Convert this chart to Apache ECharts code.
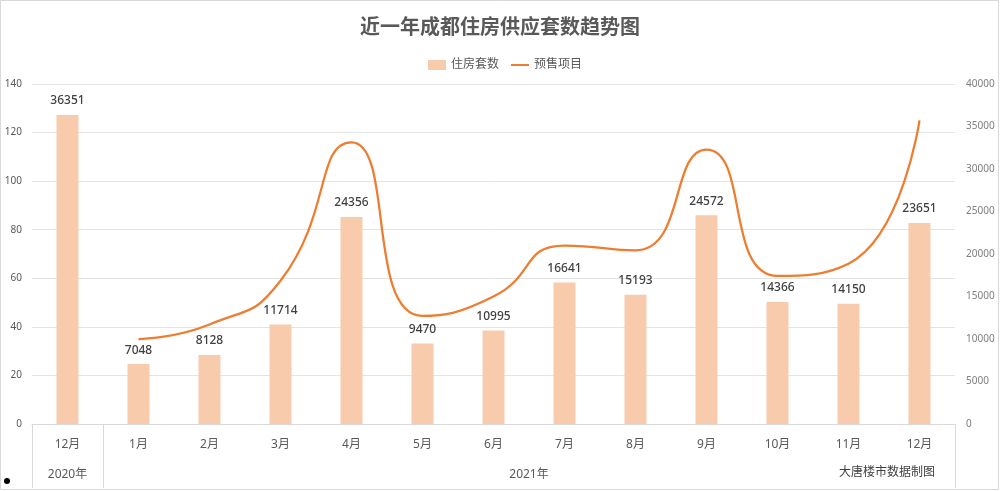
<!DOCTYPE html>
<html>
<head>
<meta charset="utf-8">
<script src="https://cdn.jsdelivr.net/npm/echarts@6/dist/echarts.min.js"></script>
<style>html,body{margin:0;padding:0;background:#fff;}#chart{width:1000px;height:491px;}</style>
</head>
<body>
<div id="chart"></div>
<script>
var categories = ['12月','1月','2月','3月','4月','5月','6月','7月','8月','9月','10月','11月','12月'];
var housingUnits = [36351, 7048, 8128, 11714, 24356, 9470, 10995, 16641, 15193, 24572, 14366, 14150, 23651];
var presaleProjects = ['-', 35, 41, 59, 116, 44.5, 52.5, 73.5, 71.5, 113, 61, 66, 125];
var yearLabels = ['2020年', '2021年'];
var yearSpans = [1, 12];
var leftTicks = {min: 0, max: 140, interval: 20};
var rightTicks = {min: 0, max: 40000, interval: 5000};

var bounds = [0], centers = [];
yearSpans.forEach(function (s, i) { var a = bounds[i]; bounds.push(a + s); centers.push(a + s / 2); });

var FONT = '"Noto Sans", "Noto Sans CJK SC", sans-serif';
var chart = echarts.init(document.getElementById('chart'));
chart.setOption({
  backgroundColor: '#fff',
  textStyle: {fontFamily: FONT},
  title: {
    text: '近一年成都住房供应套数趋势图', left: 'center', top: 13,
    textStyle: {fontSize: 20, fontWeight: 'bold', color: '#595959', fontFamily: FONT}
  },
  legend: {
    top: 54, left: 423, itemWidth: 18, itemHeight: 10, itemGap: 12,
    textStyle: {fontSize: 12, color: '#595959'},
    data: [{name: '住房套数', icon: 'rect'}, {name: '预售项目', icon: 'path://M0,0L20,0L20,2.2L0,2.2Z'}]
  },
  grid: {left: 32, right: 45, top: 84, bottom: 67},
  xAxis: [{
    type: 'category', data: categories, position: 'bottom',
    axisLine: {show: true, lineStyle: {color: '#d9d9d9'}},
    axisTick: {show: false},
    axisLabel: {color: '#595959', fontSize: 12, margin: 15}
  }, {
    type: 'value', min: bounds[0], max: bounds[bounds.length - 1], position: 'bottom',
    axisLine: {show: false}, splitLine: {show: false},
    axisTick: {show: true, customValues: bounds, length: 64, lineStyle: {color: '#d9d9d9'}},
    axisLabel: {
      customValues: centers, margin: 45, color: '#595959', fontSize: 12,
      formatter: function (v) { var i = centers.indexOf(v); return i >= 0 ? yearLabels[i] : ''; }
    }
  }],
  yAxis: [{
    type: 'value', min: leftTicks.min, max: leftTicks.max, interval: leftTicks.interval,
    axisLine: {show: false}, axisTick: {show: false},
    axisLabel: {color: '#595959', fontSize: 10, margin: 10},
    splitLine: {lineStyle: {color: '#e3e3e3'}}
  }, {
    type: 'value', min: rightTicks.min, max: rightTicks.max, interval: rightTicks.interval,
    axisLine: {show: false}, axisTick: {show: false},
    axisLabel: {color: '#7f7f7f', fontSize: 10, margin: 11, formatter: function (v) { return String(v); }},
    splitLine: {show: false}
  }],
  series: [{
    name: '住房套数', type: 'bar', xAxisIndex: 0, yAxisIndex: 1, data: housingUnits,
    barWidth: 22, itemStyle: {color: '#F8CBAD'},
    label: {show: true, position: 'top', distance: 8, color: '#404040', fontSize: 12, fontWeight: 500}
  }, {
    name: '预售项目', type: 'line', xAxisIndex: 0, yAxisIndex: 0, data: presaleProjects,
    smooth: 0.55, symbol: 'none', lineStyle: {color: '#ED7D31', width: 2.25}, itemStyle: {color: '#ED7D31'}
  }],
  graphic: [
    {type: 'rect', shape: {x: 0.5, y: 0.5, width: 998, height: 489}, style: {fill: 'none', stroke: '#d9d9d9', lineWidth: 1}, z: -1},
    {type: 'text', right: 65, top: 467, style: {text: '大唐楼市数据制图', fill: '#404040', fontSize: 12, fontFamily: FONT}},
    {type: 'circle', shape: {cx: 7, cy: 481, r: 3}, style: {fill: '#000'}}
  ]
});
</script>
</body>
</html>
